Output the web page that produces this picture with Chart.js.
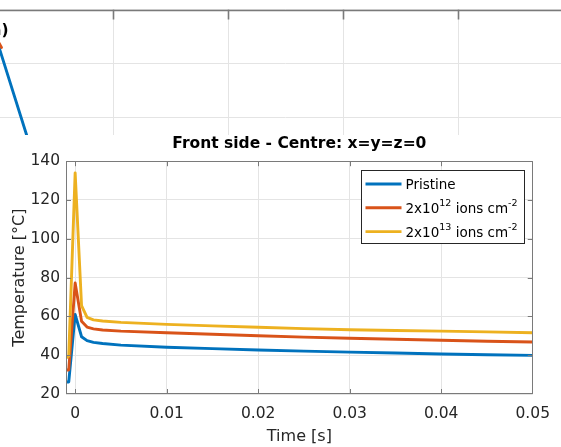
<!DOCTYPE html>
<html><head><meta charset="utf-8">
<script src="https://cdn.jsdelivr.net/npm/chart.js@4"></script>
<style>
html,body{margin:0;padding:0;background:#fff;overflow:hidden}
body{width:561px;height:447px;position:relative}
#topClip{position:absolute;left:0;top:0;width:561px;height:135px;overflow:hidden}
#topWrap{position:absolute;left:-2px;top:0;width:575px;height:178px}
#panelLabel{position:absolute;left:-16px;top:21px;line-height:16px;font:bold 15.5px "DejaVu Sans",sans-serif;color:#000;white-space:nowrap}
#mainWrap{position:absolute;left:0;top:135px;width:561px;height:312px}
</style></head><body>
<div id="topClip"><div id="topWrap"><canvas id="topChart" width="575" height="178"></canvas></div><div id="panelLabel">(a)</div></div>
<div id="mainWrap"><canvas id="mainChart" width="561" height="312"></canvas></div>
<script>
// ---- main panel data ----
const timeS        = [-0.001, -0.0007, 0, 0.0007, 0.0013, 0.002, 0.003, 0.005, 0.01, 0.015, 0.02, 0.025, 0.03, 0.035, 0.04, 0.045, 0.05];
const tempPristine = [26.2, 26.2, 61.0, 49.5, 47.5, 46.6, 46.0, 45.2, 44.1, 43.4, 42.7, 42.1, 41.6, 41.1, 40.6, 40.2, 39.9];
const temp2e12     = [32.4, 32.4, 77.2, 57.5, 54.5, 53.6, 53.0, 52.4, 51.6, 50.8, 50.0, 49.3, 48.7, 48.2, 47.7, 47.2, 46.8];
const temp2e13     = [38.5, 39.5, 134.0, 65.5, 59.5, 58.2, 57.6, 56.9, 55.9, 55.1, 54.4, 53.7, 53.1, 52.7, 52.4, 52.0, 51.6];
const xTicks       = [0, 0.01, 0.02, 0.03, 0.04, 0.05];
const xTickLabels  = ['0', '0.01', '0.02', '0.03', '0.04', '0.05'];
const yTicks       = [20, 40, 60, 80, 100, 120, 140];
const yTickLabels  = ['20', '40', '60', '80', '100', '120', '140'];
const seriesColors = ['#0072BD', '#D95319', '#EDB120'];
const seriesLabels = [
  [['Pristine', false]],
  [['2x10', false], ['12', true], [' ions cm', false], ['-2', true]],
  [['2x10', false], ['13', true], [' ions cm', false], ['-2', true]]
];
const chartTitle = 'Front side - Centre: x=y=z=0';
const xTitle = 'Time [s]';
const yTitle = 'Temperature [°C]';

// ---- top (cropped) panel data ----
const topGridX = [0, 1, 2, 3, 4, 5];
const topGridY = [0, 1, 2, 3];
const topBlueX = [-0.05, 0.35];
const topBlueY = [2.7, 0.0];
const topRedX  = [-0.1, 0.03];
const topRedY  = [2.8, 2.3];

const FONT = '"DejaVu Sans", sans-serif';
const LW = 2.9;
const pts = (xs, ys) => xs.map((x, i) => ({x: x, y: ys[i]}));

const framePlugin = {
  id: 'frame',
  afterDatasetsDraw(chart, args, o) {
    const {ctx, chartArea: a, scales} = chart;
    ctx.save();
    ctx.strokeStyle = o.color;
    ctx.lineWidth = o.width;
    ctx.lineCap = 'butt';
    const L = Math.round(a.left) + 0.5, R = Math.round(a.right) - 0.5;
    const T = Math.round(a.top) + 0.5, B = Math.round(a.bottom) - 0.5;
    ctx.beginPath();
    if (o.sides.includes('top')) { ctx.moveTo(a.left, T); ctx.lineTo(a.right, T); }
    if (o.sides.includes('bottom')) { ctx.moveTo(a.left, B); ctx.lineTo(a.right, B); }
    if (o.sides.includes('left')) { ctx.moveTo(L, a.top); ctx.lineTo(L, a.bottom); }
    if (o.sides.includes('right')) { ctx.moveTo(R, a.top); ctx.lineTo(R, a.bottom); }
    const tl = o.tickLen;
    scales.x.ticks.forEach(t => {
      const px = Math.round(scales.x.getPixelForValue(t.value)) + 0.5;
      if (px < a.left + 1 || px > a.right - 1) return;
      if (o.sides.includes('bottom')) { ctx.moveTo(px, a.bottom); ctx.lineTo(px, a.bottom - tl); }
      if (o.sides.includes('top')) { ctx.moveTo(px, a.top); ctx.lineTo(px, a.top + tl); }
    });
    scales.y.ticks.forEach(t => {
      const py = Math.round(scales.y.getPixelForValue(t.value)) + 0.5;
      if (py < a.top + 1 || py > a.bottom - 1) return;
      if (o.sides.includes('left')) { ctx.moveTo(a.left, py); ctx.lineTo(a.left + tl, py); }
      if (o.sides.includes('right')) { ctx.moveTo(a.right, py); ctx.lineTo(a.right - tl, py); }
    });
    ctx.stroke();
    ctx.restore();
  }
};

const legendPlugin = {
  id: 'miniLegend',
  afterDraw(chart, args, o) {
    if (!o.display) return;
    const {ctx, chartArea: a} = chart;
    const w = o.width, h = o.height;
    const left = Math.round(a.right - o.offsetRight - w) + 0.5;
    const top = Math.round(a.top + o.offsetTop) + 0.5;
    ctx.save();
    ctx.fillStyle = '#fff';
    ctx.fillRect(left, top, w, h);
    ctx.strokeStyle = '#262626';
    ctx.lineWidth = 1;
    ctx.strokeRect(left, top, w, h);
    seriesLabels.forEach((parts, i) => {
      const cy = top + o.firstRow + i * o.rowGap;
      ctx.strokeStyle = seriesColors[i];
      ctx.lineWidth = LW;
      ctx.beginPath();
      ctx.moveTo(left + 4, cy);
      ctx.lineTo(left + 40, cy);
      ctx.stroke();
      let x = left + 44;
      ctx.fillStyle = '#000';
      ctx.textBaseline = 'alphabetic';
      ctx.textAlign = 'left';
      parts.forEach(([txt, sup]) => {
        ctx.font = (sup ? o.supSize : o.fontSize) + 'px ' + FONT;
        const by = sup ? cy + 5 - 6.5 : cy + 5;
        ctx.fillText(txt, x, by);
        x += ctx.measureText(txt).width;
      });
    });
    ctx.restore();
  }
};

const lineStyle = {borderWidth: LW, pointRadius: 0, tension: 0, borderJoinStyle: 'round', borderCapStyle: 'round'};

// ---- top panel ----
new Chart(document.getElementById('topChart'), {
  type: 'line',
  data: {
    datasets: [
      Object.assign({data: pts(topBlueX, topBlueY), borderColor: seriesColors[0], order: 1}, lineStyle),
      Object.assign({data: pts(topRedX, topRedY), borderColor: seriesColors[1], order: 0}, lineStyle)
    ]
  },
  options: {
    responsive: false, animation: false, events: [],
    layout: {padding: {top: 9.5, left: 0, right: 0, bottom: 6}},
    plugins: {legend: {display: false}, tooltip: {enabled: false}, title: {display: false},
      frame: {color: '#7a7a7a', width: 1.6, tickLen: 10, sides: ['top']},
      miniLegend: {display: false}},
    scales: {
      x: {type: 'linear', min: 0, max: 5,
        afterBuildTicks: s => { s.ticks = topGridX.map(v => ({value: v})); },
        afterFit: s => { s.height = 0; },
        ticks: {display: false}, grid: {color: '#e4e4e4', drawTicks: false}, border: {display: false}},
      y: {type: 'linear', min: 0, max: 3,
        afterBuildTicks: s => { s.ticks = topGridY.map(v => ({value: v})); },
        afterFit: s => { s.width = 0; },
        ticks: {display: false}, grid: {color: '#e4e4e4', drawTicks: false}, border: {display: false}}
    }
  },
  plugins: [framePlugin, legendPlugin]
});

// ---- main panel ----
new Chart(document.getElementById('mainChart'), {
  type: 'line',
  data: {
    datasets: [
      Object.assign({label: 'Pristine', data: pts(timeS, tempPristine), borderColor: seriesColors[0], order: 2}, lineStyle),
      Object.assign({label: '2x10^12', data: pts(timeS, temp2e12), borderColor: seriesColors[1], order: 1}, lineStyle),
      Object.assign({label: '2x10^13', data: pts(timeS, temp2e13), borderColor: seriesColors[2], order: 0}, lineStyle)
    ]
  },
  options: {
    responsive: false, animation: false, events: [],
    layout: {padding: {left: 0, right: 26, top: 0, bottom: 0}},
    plugins: {
      legend: {display: false}, tooltip: {enabled: false},
      title: {display: true, text: chartTitle, fullSize: false, color: '#000',
        font: {family: FONT, size: 15.5, weight: 'bold', lineHeight: 1.2}, padding: {top: 0, bottom: 7.6}},
      frame: {color: '#7a7a7a', width: 1, tickLen: 5, sides: ['top', 'bottom', 'left', 'right']},
      miniLegend: {display: true, width: 163, height: 73, offsetRight: 9, offsetTop: 9, firstRow: 13.5, rowGap: 23.8, fontSize: 13.5, supSize: 9.5}
    },
    scales: {
      x: {type: 'linear', min: -0.001, max: 0.05,
        afterBuildTicks: s => { s.ticks = xTicks.map(v => ({value: v})); },
        afterFit: s => { s.height = 53; },
        ticks: {callback: (v, i) => xTickLabels[i], font: {family: FONT, size: 15.5}, color: '#262626', padding: 11, maxRotation: 0, autoSkip: false},
        grid: {color: '#e4e4e4', drawTicks: false}, border: {display: false},
        title: {display: true, text: xTitle, color: '#262626', font: {family: FONT, size: 16, lineHeight: 1.2}, padding: {top: 0, bottom: 1}}},
      y: {type: 'linear', min: 20, max: 140,
        afterBuildTicks: s => { s.ticks = yTicks.map(v => ({value: v})); },
        afterFit: s => { s.width = 66; },
        ticks: {callback: (v, i) => yTickLabels[i], font: {family: FONT, size: 15.5}, color: '#262626', padding: 6, autoSkip: false},
        grid: {color: '#e4e4e4', drawTicks: false}, border: {display: false},
        title: {display: true, text: yTitle, color: '#262626', font: {family: FONT, size: 16, lineHeight: 1.2}, padding: {top: 10, bottom: 0}}}
    }
  },
  plugins: [framePlugin, legendPlugin]
});
</script>
</body></html>
